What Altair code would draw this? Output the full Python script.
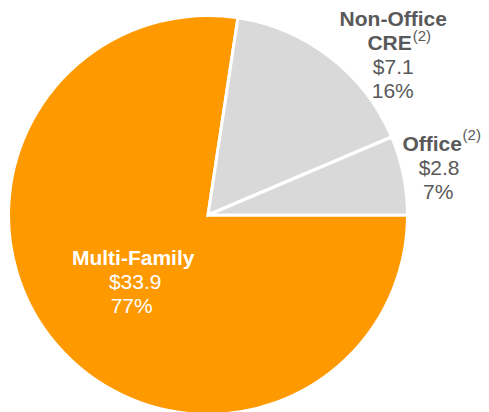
import math
import altair as alt
import pandas as pd

# ---- data ----
categories = ["Multi-Family", "Non-Office CRE", "Office"]
values = [33.9, 7.1, 2.8]
name_line1 = ["Multi-Family", "Non-Office", "Office"]
name_line2 = ["", "CRE", ""]
footnotes = ["", "(2)", "(2)"]
amount_labels = ["$33.9", "$7.1", "$2.8"]
pct_labels = ["77%", "16%", "7%"]
slice_colors = ["#FF9900", "#D9D9D9", "#D9D9D9"]

df = pd.DataFrame({
    "category": categories,
    "value": values,
    "name1": name_line1,
    "name2": name_line2,
    "note": footnotes,
    "amount": amount_labels,
    "pct": pct_labels,
    "idx": list(range(len(categories))),
})

FONT = "Liberation Sans"
GREY_TEXT = "#595959"
FS = 21
FS_SUP = 15

base = alt.Chart(df).encode(
    theta=alt.Theta("value:Q", stack=True,
                    scale=alt.Scale(range=[math.pi / 2, math.pi / 2 + 2 * math.pi])),
    order=alt.Order("idx:Q", sort="ascending"),
)

pie = base.mark_arc(outerRadius=199.5, stroke="white", strokeWidth=3).encode(
    color=alt.Color("category:N", scale=alt.Scale(domain=categories, range=slice_colors), legend=None)
)


def label(cat, field, radius, dx, dy, size=FS, bold=False, color=GREY_TEXT, align="center"):
    return base.transform_calculate(
        t=f"datum.category === '{cat}' ? datum.{field} : ''"
    ).mark_text(
        radius=radius, dx=dx, dy=dy, fontSize=size,
        fontWeight="bold" if bold else "normal", font=FONT, color=color,
        align=align, baseline="alphabetic",
    ).encode(text="t:N")


layers = [
    # Multi-Family (inside, white)
    label("Multi-Family", "name1", 100, 1, -15, bold=True, color="white"),
    label("Multi-Family", "amount", 100, 3, 9, color="white"),
    label("Multi-Family", "pct", 100, -0.5, 33, color="white"),
    # Non-Office CRE (outside)
    label("Non-Office CRE", "name1", 210, 56.5, -23.5, bold=True),
    label("Non-Office CRE", "name2", 210, 75, 0.7, bold=True, align="right"),
    label("Non-Office CRE", "note", 210, 76, -8.5, size=FS_SUP, align="left"),
    label("Non-Office CRE", "amount", 210, 56.5, 24.9),
    label("Non-Office CRE", "pct", 210, 56, 49),
    # Office (outside)
    label("Office", "name1", 220, 38.4, -19.8, bold=True, align="right"),
    label("Office", "note", 220, 39, -31, size=FS_SUP, align="left"),
    label("Office", "amount", 220, 15.5, 4),
    label("Office", "pct", 220, 14.6, 28),
]

chart = alt.layer(pie, *layers).properties(
    width=400,
    height=414,
    padding={"left": 0, "top": 0, "right": 73, "bottom": 0},
    autosize=alt.AutoSizeParams(type="none"),
).configure_view(stroke=None)

chart.save("out.html", embed_options={"renderer": "svg", "actions": False})
